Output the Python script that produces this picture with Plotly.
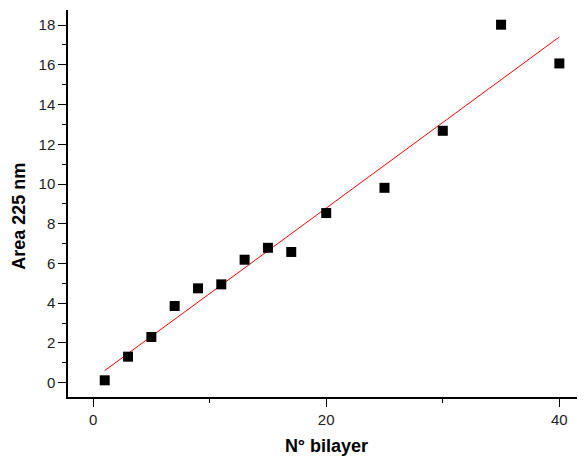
import numpy as np
import plotly.graph_objects as go

bilayers = [1, 3, 5, 7, 9, 11, 13, 15, 17, 20, 25, 30, 35, 40]
area = [0.12, 1.31, 2.30, 3.86, 4.75, 4.95, 6.19, 6.79, 6.58, 8.54, 9.81, 12.68, 18.02, 16.07]
x_ticks = [0, 20, 40]
y_ticks = [0, 2, 4, 6, 8, 10, 12, 14, 16, 18]

slope, intercept = np.polyfit(bilayers, area, 1)
fit_x = [min(bilayers), max(bilayers)]
fit_y = [slope * v + intercept for v in fit_x]

font_family = "Liberation Sans, Arial, sans-serif"

fig = go.Figure()
fig.add_trace(go.Scatter(x=fit_x, y=fit_y, mode="lines",
                         line=dict(color="#ff0000", width=1), showlegend=False))
fig.add_trace(go.Scatter(x=bilayers, y=area, mode="markers",
                         marker=dict(symbol="square", size=10, color="black"),
                         showlegend=False))

axis_common = dict(showgrid=False, zeroline=False, showline=True, linecolor="black",
                   linewidth=1.5, ticks="outside", ticklen=8, tickwidth=1.2,
                   tickcolor="black", automargin=False,
                   tickfont=dict(family=font_family, size=15, color="#222"))

fig.update_xaxes(range=[-2.15, 42.2], tickvals=x_ticks,
                 minor=dict(ticks="outside", ticklen=4, tickwidth=1.2, tickcolor="black", dtick=10, tick0=0),
                 title=dict(text="<b>N° bilayer</b>", font=dict(family=font_family, size=18, color="black"),
                            standoff=13),
                 **axis_common)
fig.update_yaxes(range=[-0.72, 18.76], tickvals=y_ticks,
                 minor=dict(ticks="outside", ticklen=4, tickwidth=1.2, tickcolor="black", dtick=1, tick0=0),
                 **axis_common)

fig.add_annotation(text="<b>Area 225 nm</b>", xref="paper", yref="paper",
                   x=-0.095, y=0.468, xanchor="center", yanchor="middle",
                   textangle=-90, showarrow=False,
                   font=dict(family=font_family, size=18, color="black"))

fig.update_layout(width=577, height=449, margin=dict(l=60, r=0, t=2, b=60),
                  plot_bgcolor="white", paper_bgcolor="white")

fig.write_html("out.html")
